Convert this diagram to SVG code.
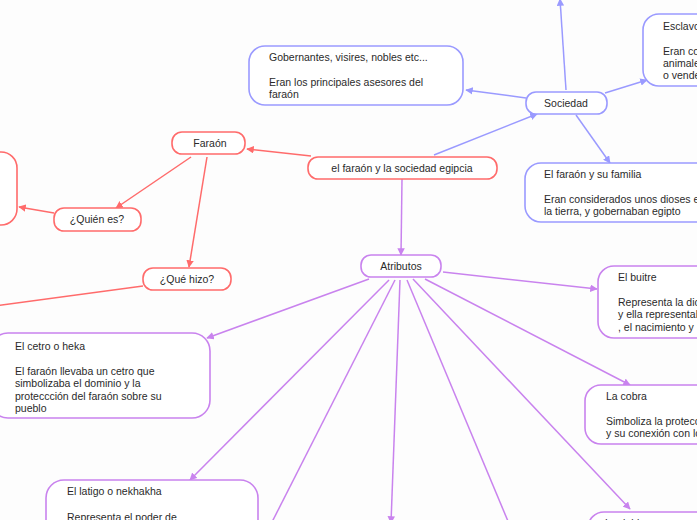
<svg xmlns="http://www.w3.org/2000/svg" width="697" height="520" viewBox="0 0 697 520">
<style>
text{font-family:"Liberation Sans","Noto Sans",Arial,sans-serif;font-size:10.5px;fill:#2a2a2a}
.c{text-anchor:middle}
.r{fill:#fff;stroke:#ff6b6b;stroke-width:1.6}
.b{fill:#fff;stroke:#9a9aff;stroke-width:1.6}
.p{fill:#fff;stroke:#c983ee;stroke-width:1.6}
.lr{stroke:#ff6b6b;stroke-width:1.5;fill:none}
.lb{stroke:#9a9aff;stroke-width:1.5;fill:none}
.lp{stroke:#c983ee;stroke-width:1.5;fill:none}
</style>
<defs>
<marker id="ar" viewBox="0 0 10 10" refX="9" refY="5" markerWidth="5" markerHeight="5" orient="auto"><path d="M0,0L10,5L0,10z" fill="#ff6b6b"/></marker>
<marker id="ab" viewBox="0 0 10 10" refX="9" refY="5" markerWidth="5" markerHeight="5" orient="auto"><path d="M0,0L10,5L0,10z" fill="#9a9aff"/></marker>
<marker id="ap" viewBox="0 0 10 10" refX="9" refY="5" markerWidth="5" markerHeight="5" orient="auto"><path d="M0,0L10,5L0,10z" fill="#c983ee"/></marker>
</defs>
<rect width="697" height="520" fill="#fdfdfd"/>
<g id="connectors">
<line class="lb" x1="434" y1="155" x2="537" y2="114" marker-end="url(#ab)"/>
<line class="lb" x1="526" y1="98" x2="466" y2="90" marker-end="url(#ab)"/>
<line class="lb" x1="605" y1="93" x2="647" y2="80" marker-end="url(#ab)"/>
<line class="lb" x1="576" y1="115" x2="610" y2="163" marker-end="url(#ab)"/>
<line class="lb" x1="566" y1="90" x2="560" y2="-1" marker-end="url(#ab)"/>
<line class="lr" x1="311" y1="156" x2="247" y2="149" marker-end="url(#ar)"/>
<line class="lr" x1="191" y1="157" x2="116" y2="208" marker-end="url(#ar)"/>
<line class="lr" x1="207" y1="157" x2="189" y2="267" marker-end="url(#ar)"/>
<line class="lr" x1="54" y1="213" x2="19" y2="207" marker-end="url(#ar)"/>
<line class="lr" x1="143" y1="286" x2="-5" y2="306"/>
<line class="lp" x1="402" y1="179" x2="401" y2="255" marker-end="url(#ap)"/>
<line class="lp" x1="443" y1="272" x2="597" y2="289" marker-end="url(#ap)"/>
<line class="lp" x1="425" y1="279" x2="630" y2="385" marker-end="url(#ap)"/>
<line class="lp" x1="413" y1="279" x2="630" y2="509" marker-end="url(#ap)"/>
<line class="lp" x1="407" y1="280" x2="510" y2="526"/>
<line class="lp" x1="400" y1="280" x2="391" y2="523" marker-end="url(#ap)"/>
<line class="lp" x1="395" y1="280" x2="270" y2="526"/>
<line class="lp" x1="389" y1="280" x2="190" y2="480" marker-end="url(#ap)"/>
<line class="lp" x1="369" y1="279" x2="207" y2="338" marker-end="url(#ap)"/>
</g>
<g id="central"><rect class="r" x="308" y="157" width="189" height="22" rx="10"/><text class="c" x="402" y="172">el faraón y la sociedad egipcia</text></g>
<g id="sociedad"><rect class="b" x="526" y="92" width="81" height="22" rx="10"/><text class="c" x="566" y="107">Sociedad</text></g>
<g id="gobernantes"><rect class="b" x="249" y="46" width="214" height="59" rx="16"/><text x="269" y="61">Gobernantes, visires, nobles etc...</text><text x="269" y="86">Eran los principales asesores del</text><text x="269" y="98">faraón</text></g>
<g id="esclavos"><rect class="b" x="643" y="14" width="120" height="72" rx="16"/><text x="663" y="30">Esclavos</text><text x="663" y="55">Eran considerados</text><text x="663" y="67">animales y se podían</text><text x="663" y="79">o vender</text></g>
<g id="familia"><rect class="b" x="525" y="163" width="220" height="59" rx="16"/><text x="544" y="178">El faraón y su familia</text><text x="544" y="203">Eran considerados unos dioses en</text><text x="544" y="215">la tierra, y gobernaban egipto</text></g>
<g id="faraon"><rect class="r" x="172" y="132" width="73" height="22" rx="10"/><text class="c" x="210" y="147">Faraón</text></g>
<g id="quien"><rect class="r" x="54" y="208" width="87" height="23" rx="10"/><text class="c" x="97" y="223">¿Quién es?</text></g>
<g id="quehizo"><rect class="r" x="143" y="268" width="88" height="22" rx="10"/><text class="c" x="187" y="283">¿Qué hizo?</text></g>
<g id="leftnode"><rect class="r" x="-100" y="152" width="117" height="73" rx="16"/></g>
<g id="atributos"><rect class="p" x="361" y="255" width="80" height="22" rx="10"/><text class="c" x="401" y="270">Atributos</text></g>
<g id="cetro"><rect class="p" x="-10" y="333" width="220" height="85" rx="18"/><text x="15" y="350">El cetro o heka</text><text x="15" y="375">El faraón llevaba un cetro que</text><text x="15" y="387">simbolizaba el dominio y la</text><text x="15" y="400">proteccción del faraón sobre su</text><text x="15" y="412">pueblo</text></g>
<g id="latigo"><rect class="p" x="46" y="480" width="212" height="70" rx="18"/><text x="67" y="495">El latigo o nekhakha</text><text x="67" y="521">Representa el poder de</text></g>
<g id="buitre"><rect class="p" x="598" y="266" width="160" height="72" rx="16"/><text x="618" y="281">El buitre</text><text x="618" y="306">Representa la diosa</text><text x="618" y="318">y ella representaba</text><text x="618" y="331">, el nacimiento y</text></g>
<g id="cobra"><rect class="p" x="585" y="385" width="160" height="59" rx="16"/><text x="606" y="400">La cobra</text><text x="606" y="425">Simboliza la protección</text><text x="606" y="437">y su conexión con los</text></g>
<g id="corona"><rect class="p" x="588" y="512" width="160" height="60" rx="16"/><text x="605" y="527">La doble corona</text></g>
</svg>
